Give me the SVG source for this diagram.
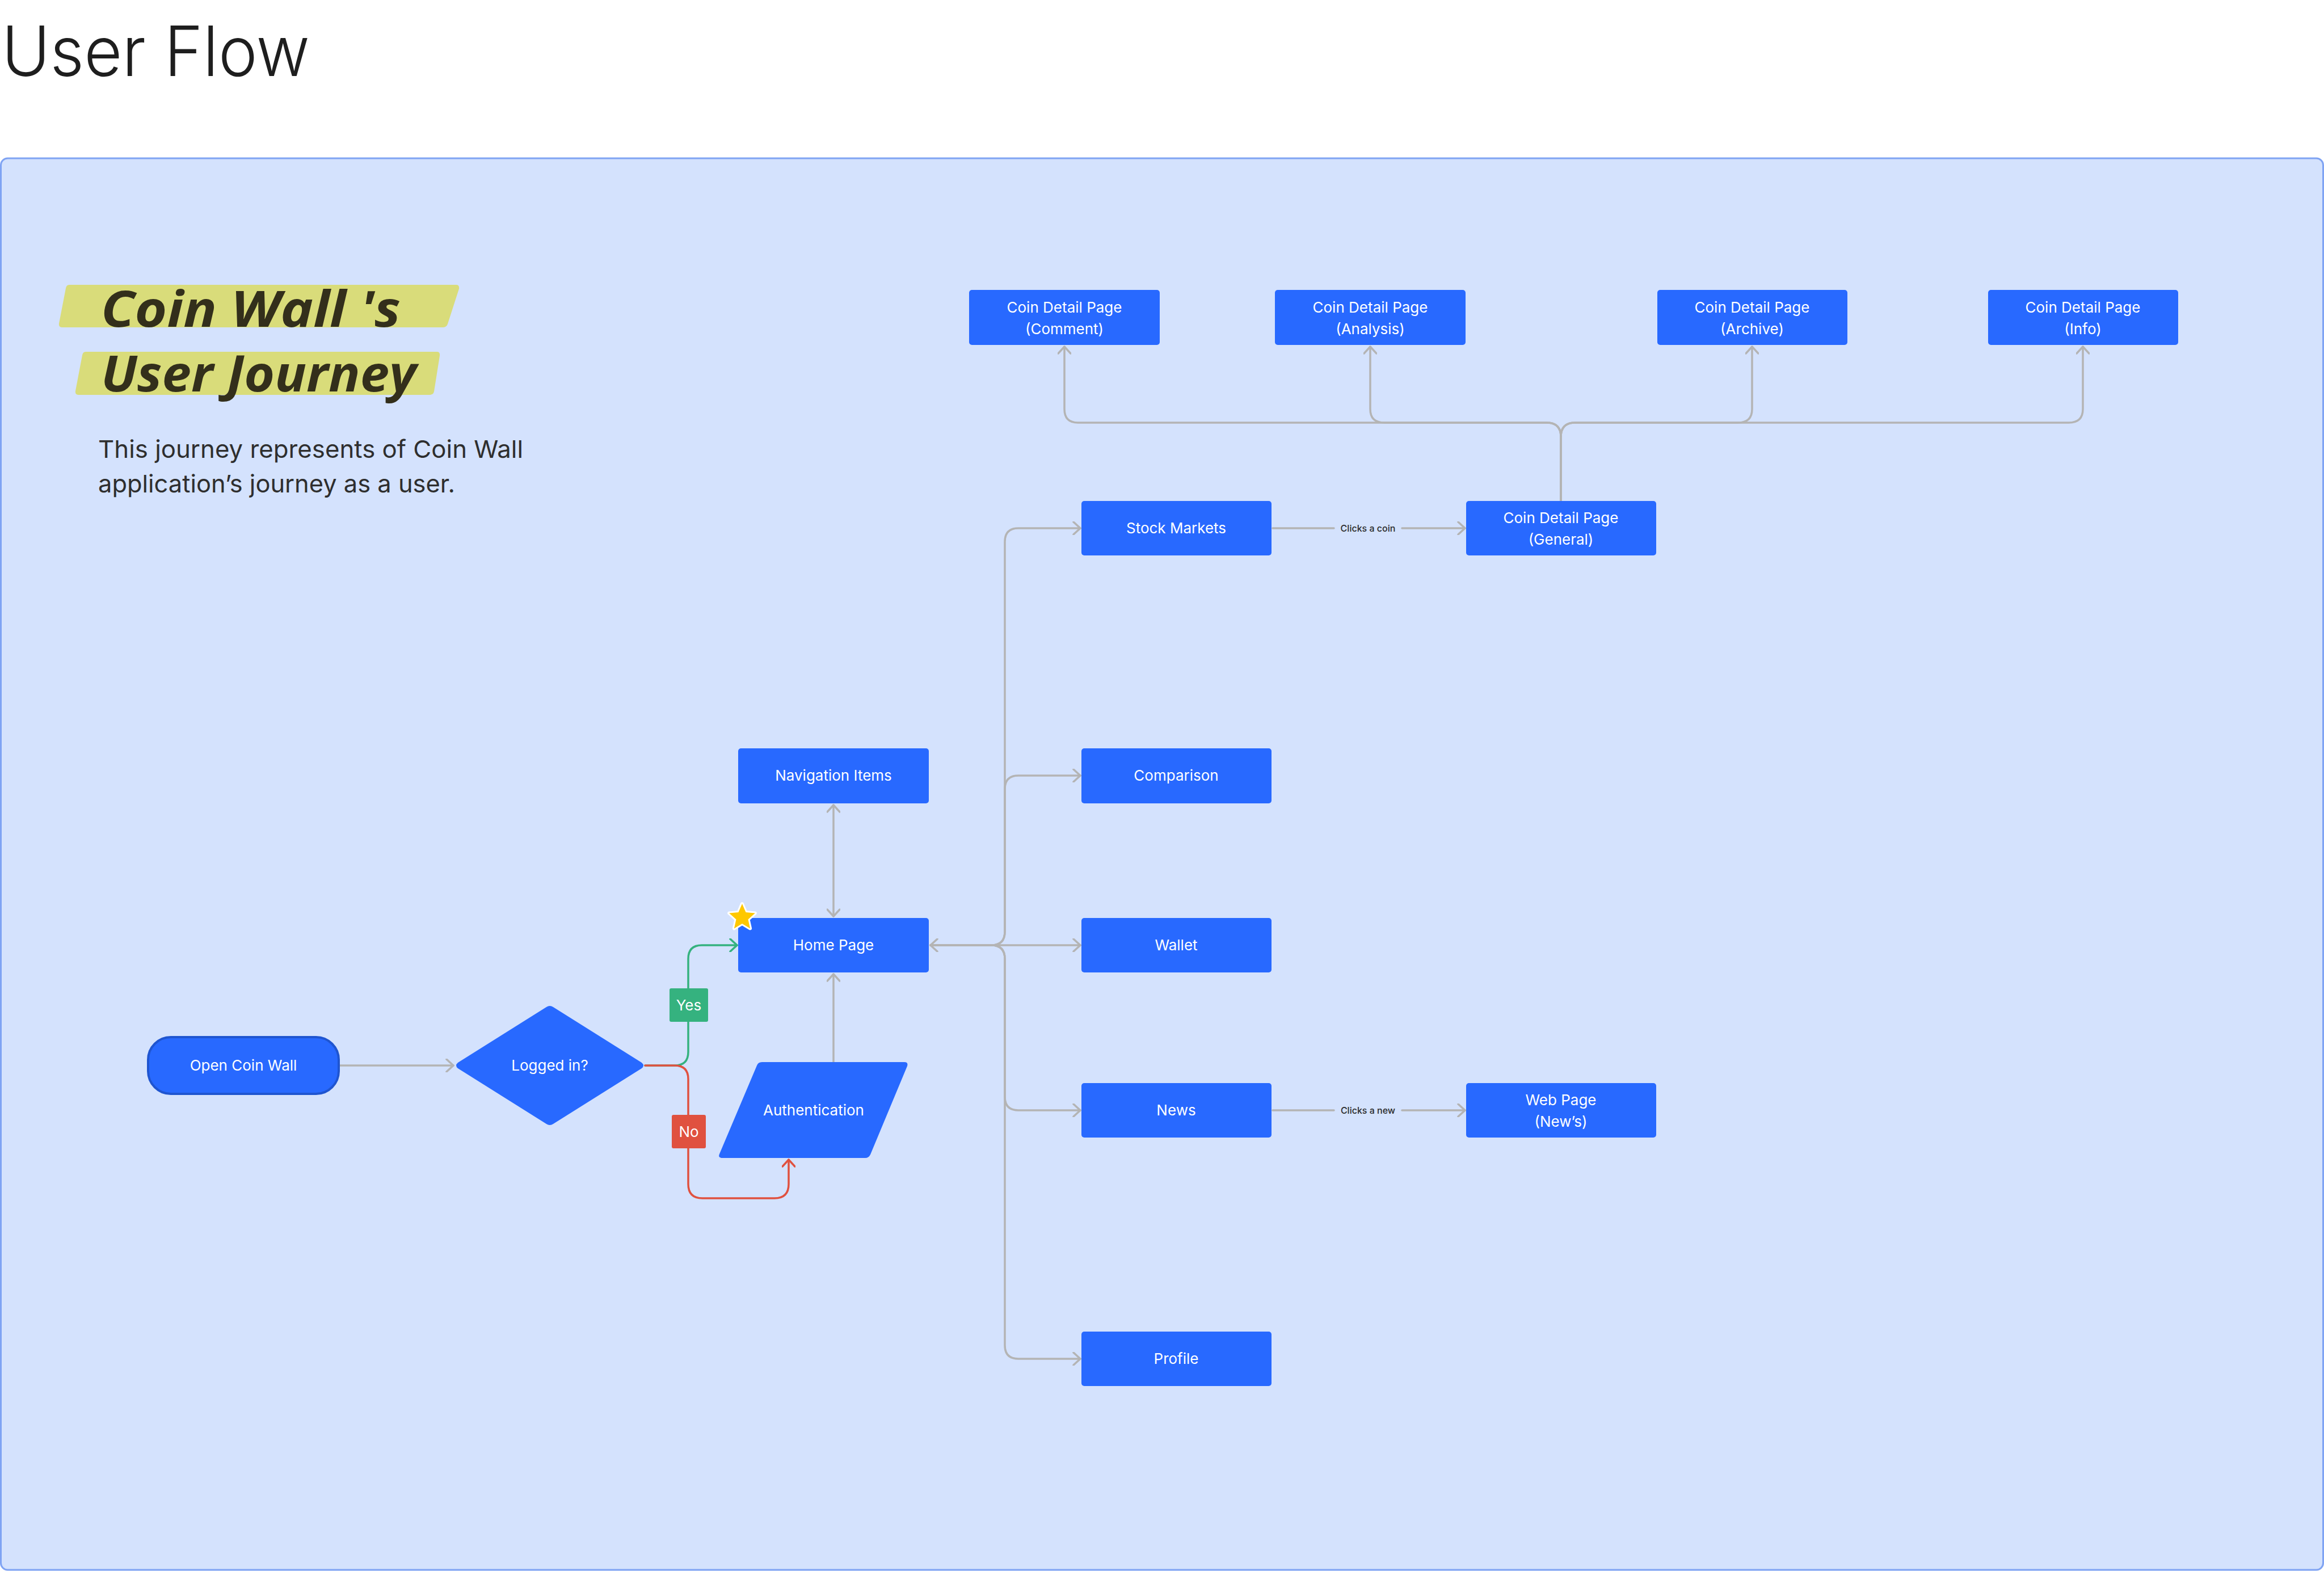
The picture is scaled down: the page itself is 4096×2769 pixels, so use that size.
<svg xmlns="http://www.w3.org/2000/svg" width="4096" height="2769" viewBox="0 0 4096 2769">
<style>
.node{fill:#2869FF}
.lbl{font-family:Inter,"Liberation Sans",sans-serif;font-size:26px;font-weight:400;fill:#ffffff;text-anchor:middle}
.con{fill:none;stroke:#B4B4B4;stroke-width:3.5;stroke-linecap:round;stroke-linejoin:round}
.clab{font-family:Inter,"Liberation Sans",sans-serif;font-size:16px;font-weight:500;fill:#2A2A2A;text-anchor:middle}
.hand{font-family:"Open Sans","DejaVu Sans",sans-serif;font-style:italic;font-weight:700;font-size:88px;fill:#332F1B}
.desc{font-family:Inter,"Liberation Sans",sans-serif;font-size:43px;fill:#2E2E2E}
</style>
<defs>
<marker id="ag" viewBox="0 0 24 24" refX="20" refY="12" markerWidth="24" markerHeight="24" markerUnits="userSpaceOnUse" orient="auto-start-reverse">
<path d="M8,1 L20,12 L8,23" fill="none" stroke="#B4B4B4" stroke-width="3.5" stroke-linecap="round" stroke-linejoin="round"/>
</marker>
<marker id="agr" viewBox="0 0 24 24" refX="20" refY="12" markerWidth="24" markerHeight="24" markerUnits="userSpaceOnUse" orient="auto-start-reverse">
<path d="M8,1 L20,12 L8,23" fill="none" stroke="#35B27F" stroke-width="3.5" stroke-linecap="round" stroke-linejoin="round"/>
</marker>
<marker id="ard" viewBox="0 0 24 24" refX="20" refY="12" markerWidth="24" markerHeight="24" markerUnits="userSpaceOnUse" orient="auto-start-reverse">
<path d="M8,1 L20,12 L8,23" fill="none" stroke="#E0513F" stroke-width="3.5" stroke-linecap="round" stroke-linejoin="round"/>
</marker>
</defs>
<rect width="4096" height="2769" fill="#ffffff"/>
<text x="3" y="134" font-family="Inter,'Liberation Sans',sans-serif" font-weight="300" font-size="122" fill="#1E1E1E" textLength="543" lengthAdjust="spacingAndGlyphs">User Flow</text>
<rect id="frame" x="1.5" y="279" width="4093" height="2488" rx="12" fill="#D4E2FD" stroke="#7FA3F3" stroke-width="3"/>
<g id="heading">
<path d="M122,502 L804,502 Q810,502 809,509 L789,571 Q787,577 780,577 L110,577 Q103,577 104,570 L116,508 Q117,502 122,502 Z" fill="#D9DC7A"/>
<path d="M151,620 L770,620 Q776,620 775,627 L765,690 Q764,696 757,696 L138,696 Q132,696 133,689 L145,626 Q146,620 151,620 Z" fill="#D9DC7A"/>
<text class="hand" x="178" y="576" textLength="528" lengthAdjust="spacingAndGlyphs">Coin Wall 's</text>
<text class="hand" x="178" y="690" textLength="556" lengthAdjust="spacingAndGlyphs">User Journey</text>
<text class="desc" x="173" y="807" textLength="749" lengthAdjust="spacingAndGlyphs">This journey represents of Coin Wall</text>
<text class="desc" x="173" y="868" textLength="629" lengthAdjust="spacingAndGlyphs">application’s journey as a user.</text>
</g>
<g id="connectors">
<path class="con" d="M597,1878 H799" marker-end="url(#ag)"/>
<path d="M1137,1878 H1189 Q1213,1878 1213,1854 V1690 Q1213,1666 1237,1666 H1299" fill="none" stroke="#35B27F" stroke-width="3.5" stroke-linecap="round" marker-end="url(#agr)"/>
<path d="M1137,1878 H1189 Q1213,1878 1213,1902 V2087 Q1213,2112 1238,2112 H1365 Q1390,2112 1390,2087 V2044" fill="none" stroke="#E0513F" stroke-width="3.5" stroke-linecap="round" marker-end="url(#ard)"/>
<path class="con" d="M1469,1872 V1717" marker-end="url(#ag)"/>
<path class="con" d="M1469,1419 V1615" marker-start="url(#ag)" marker-end="url(#ag)"/>
<path class="con" d="M1640,1666 H1904" marker-start="url(#ag)" marker-end="url(#ag)"/>
<path class="con" d="M1640,1666 H1747 Q1771,1666 1771,1642 V955 Q1771,931 1795,931 H1904" marker-end="url(#ag)"/>
<path class="con" d="M1640,1666 H1747 Q1771,1666 1771,1642 V1391 Q1771,1367 1795,1367 H1904" marker-end="url(#ag)"/>
<path class="con" d="M1640,1666 H1747 Q1771,1666 1771,1690 V1933 Q1771,1957 1795,1957 H1904" marker-end="url(#ag)"/>
<path class="con" d="M1640,1666 H1747 Q1771,1666 1771,1690 V2371 Q1771,2395 1795,2395 H1904" marker-end="url(#ag)"/>
<path class="con" d="M2243,931 H2351 M2471,931 H2582" marker-end="url(#ag)"/>
<text class="clab" x="2411" y="937">Clicks a coin</text>
<path class="con" d="M2243,1957 H2351 M2471,1957 H2582" marker-end="url(#ag)"/>
<text class="clab" x="2411" y="1963">Clicks a new</text>
<path class="con" d="M2751,883 V770 Q2751,745 2726,745 H1900 Q1876,745 1876,721 V611" marker-end="url(#ag)"/>
<path class="con" d="M2751,883 V770 Q2751,745 2726,745 H2440 Q2415,745 2415,721 V611" marker-end="url(#ag)"/>
<path class="con" d="M2751,883 V770 Q2751,745 2776,745 H3063 Q3088,745 3088,721 V611" marker-end="url(#ag)"/>
<path class="con" d="M2751,883 V770 Q2751,745 2776,745 H3646 Q3671,745 3671,721 V611" marker-end="url(#ag)"/>
</g>
<g id="open-coin-wall">
<rect x="261" y="1828" width="336" height="100" rx="40" fill="#2869FF" stroke="#1F55D0" stroke-width="4"/>
<text class="lbl" x="429" y="1887">Open Coin Wall</text>
</g>
<g id="logged-in">
<path d="M963,1775 Q969,1771 975,1775 L1131,1873 Q1137,1878 1131,1883 L975,1981 Q969,1985 963,1981 L807,1883 Q801,1878 807,1873 Z" class="node"/>
<text class="lbl" x="969" y="1887">Logged in?</text>
</g>
<g id="yes-label">
<rect x="1180" y="1742" width="68" height="59" rx="3" fill="#35B27F"/>
<text class="lbl" x="1214" y="1781" font-size="25">Yes</text>
</g>
<g id="no-label">
<rect x="1184" y="1965" width="60" height="59" rx="3" fill="#E0513F"/>
<text class="lbl" x="1214" y="2004" font-size="25">No</text>
</g>
<g id="authentication">
<path d="M1343,1872 H1594 Q1601,1872 1599,1879 L1534,2035 Q1531,2041 1525,2041 H1273 Q1265,2041 1268,2034 L1334,1878 Q1336,1872 1343,1872 Z" class="node"/>
<text class="lbl" x="1434" y="1966">Authentication</text>
</g>
<g id="navigation-items">
<rect x="1301" y="1319" width="336" height="97" rx="5" class="node"/>
<text class="lbl" x="1469" y="1376">Navigation Items</text>
</g>
<g id="home-page">
<rect x="1301" y="1618" width="336" height="96" rx="5" class="node"/>
<text class="lbl" x="1469" y="1675">Home Page</text>
<path d="M1308,1593 L1314.5,1608.1 L1330.8,1609.6 L1318.5,1620.4 L1322.1,1636.4 L1308,1628 L1293.9,1636.4 L1297.5,1620.4 L1285.2,1609.6 L1301.5,1608.1 Z" fill="#FFC800" stroke="#ffffff" stroke-width="6" stroke-linejoin="round" paint-order="stroke"/>
</g>
<g id="stock-markets">
<rect x="1906" y="883" width="335" height="96" rx="5" class="node"/>
<text class="lbl" x="2073" y="940">Stock Markets</text>
</g>
<g id="comparison">
<rect x="1906" y="1319" width="335" height="97" rx="5" class="node"/>
<text class="lbl" x="2073" y="1376">Comparison</text>
</g>
<g id="wallet">
<rect x="1906" y="1618" width="335" height="96" rx="5" class="node"/>
<text class="lbl" x="2073" y="1675">Wallet</text>
</g>
<g id="news">
<rect x="1906" y="1909" width="335" height="96" rx="5" class="node"/>
<text class="lbl" x="2073" y="1966">News</text>
</g>
<g id="profile">
<rect x="1906" y="2347" width="335" height="96" rx="5" class="node"/>
<text class="lbl" x="2073" y="2404">Profile</text>
</g>
<g id="coin-detail-general">
<rect x="2584" y="883" width="335" height="96" rx="5" class="node"/>
<text class="lbl" x="2751" y="922">Coin Detail Page</text>
<text class="lbl" x="2751" y="960">(General)</text>
</g>
<g id="web-page">
<rect x="2584" y="1909" width="335" height="96" rx="5" class="node"/>
<text class="lbl" x="2751" y="1948">Web Page</text>
<text class="lbl" x="2751" y="1986">(New’s)</text>
</g>
<g id="coin-detail-comment">
<rect x="1708" y="511" width="336" height="97" rx="5" class="node"/>
<text class="lbl" x="1876" y="551">Coin Detail Page</text>
<text class="lbl" x="1876" y="589">(Comment)</text>
</g>
<g id="coin-detail-analysis">
<rect x="2247" y="511" width="336" height="97" rx="5" class="node"/>
<text class="lbl" x="2415" y="551">Coin Detail Page</text>
<text class="lbl" x="2415" y="589">(Analysis)</text>
</g>
<g id="coin-detail-archive">
<rect x="2921" y="511" width="335" height="97" rx="5" class="node"/>
<text class="lbl" x="3088" y="551">Coin Detail Page</text>
<text class="lbl" x="3088" y="589">(Archive)</text>
</g>
<g id="coin-detail-info">
<rect x="3504" y="511" width="335" height="97" rx="5" class="node"/>
<text class="lbl" x="3671" y="551">Coin Detail Page</text>
<text class="lbl" x="3671" y="589">(Info)</text>
</g>
</svg>
